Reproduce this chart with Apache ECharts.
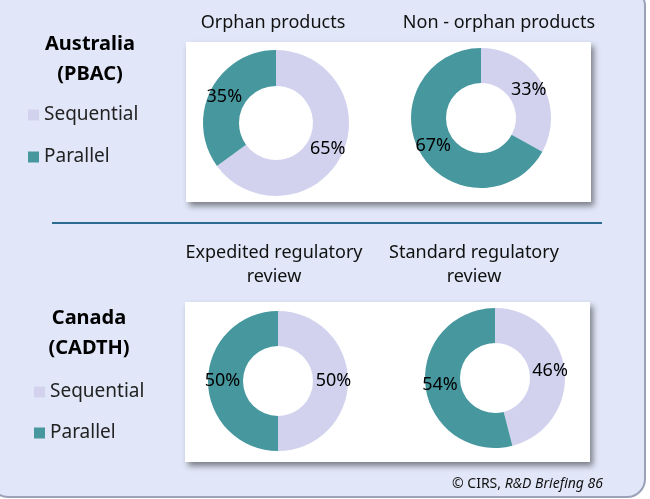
<!DOCTYPE html>
<html>
<head>
<meta charset="utf-8">
<script src="https://cdn.jsdelivr.net/npm/echarts@6/dist/echarts.min.js"></script>
<style>
  html, body { margin: 0; padding: 0; background: #fff; }
  #main { width: 650px; height: 499px; }
</style>
</head>
<body>
<div id="main"></div>
<script>
// data
var regions = ['Australia\n(PBAC)', 'Canada\n(CADTH)'];
var panelTitles = ['Orphan products', 'Non - orphan products', 'Expedited regulatory\nreview', 'Standard regulatory\nreview'];
var seriesNames = ['Sequential', 'Parallel'];
var sequential = [65, 33, 50, 46];
var parallel = [35, 67, 50, 54];

var colors = ['#d2d2ee', '#47979e'];
var font = 'Noto Sans';

// layout
var pieCenters = [[276, 123], [481, 118], [278, 381], [495, 378]];
var pieRadius = [[37, 73], [35, 70], [35, 70], [35, 70]];
var titlePos = [[273, 11], [499, 11], [274, 241], [474, 241]];
var regionPos = [[90, 29], [89, 303]];

var chart = echarts.init(document.getElementById('main'));

var titles = [];
panelTitles.forEach(function (t, i) {
	titles.push({
		text: t, left: titlePos[i][0], top: titlePos[i][1], textAlign: 'center', padding: 0,
		textStyle: { fontFamily: font, fontSize: 18, fontWeight: 'normal', color: '#111', lineHeight: 24 }
	});
});
regions.forEach(function (t, i) {
	titles.push({
		text: t, left: regionPos[i][0], top: regionPos[i][1], textAlign: 'center', padding: 0,
		textStyle: { fontFamily: font, fontSize: 20, fontWeight: 'bold', color: '#000', lineHeight: 30 }
	});
});
titles.push({
	text: '© CIRS, {i|R&D Briefing 86}', right: 47, top: 477, padding: 0,
	textStyle: { fontFamily: font, fontSize: 14, fontWeight: 'normal', color: '#111',
		rich: { i: { fontFamily: font, fontSize: 14, fontStyle: 'italic', color: '#111' } } }
});

var legendBase = {
	orient: 'vertical', icon: 'rect', itemWidth: 11, itemHeight: 11, padding: 0,
	selectedMode: false, data: seriesNames,
	textStyle: { fontFamily: font, fontSize: 19, color: '#222', lineHeight: 20 }
};

var series = [];
sequential.forEach(function (v, i) {
	series.push({
		type: 'pie', center: pieCenters[i], radius: pieRadius[i],
		startAngle: 90, clockwise: true, animation: false,
		emphasis: { disabled: true },
		label: { show: true, position: 'inside', formatter: '{c}%', color: '#000',
			fontFamily: font, fontSize: 18, textBorderWidth: 0 },
		labelLine: { show: false },
		data: [
			{ name: seriesNames[0], value: v, itemStyle: { color: colors[0] } },
			{ name: seriesNames[1], value: parallel[i], itemStyle: { color: colors[1] } }
		]
	});
});

var boxStyle = { fill: '#fff', shadowBlur: 6, shadowOffsetX: 3, shadowOffsetY: 4, shadowColor: 'rgba(0,0,0,0.45)' };

var option = {
	backgroundColor: '#fff',
	color: colors,
	title: titles,
	legend: [
		Object.assign({ left: 28, top: 105, itemGap: 22 }, legendBase),
		Object.assign({ left: 34, top: 382, itemGap: 21 }, legendBase)
	],
	graphic: [
		{ type: 'rect', z: -10, shape: { x: -10, y: -12, width: 655, height: 509, r: 18 },
			style: { fill: '#e1e7f8', stroke: '#9aa1b8', lineWidth: 2 } },
		{ type: 'rect', z: -5, shape: { x: 186, y: 42, width: 405, height: 160 }, style: boxStyle },
		{ type: 'rect', z: -5, shape: { x: 185, y: 302, width: 405, height: 160 }, style: boxStyle },
		{ type: 'line', z: -5, shape: { x1: 52, y1: 223, x2: 602, y2: 223 },
			style: { stroke: '#2a6b8f', lineWidth: 2 } }
	],
	series: series
};

chart.setOption(option);
</script>
</body>
</html>
